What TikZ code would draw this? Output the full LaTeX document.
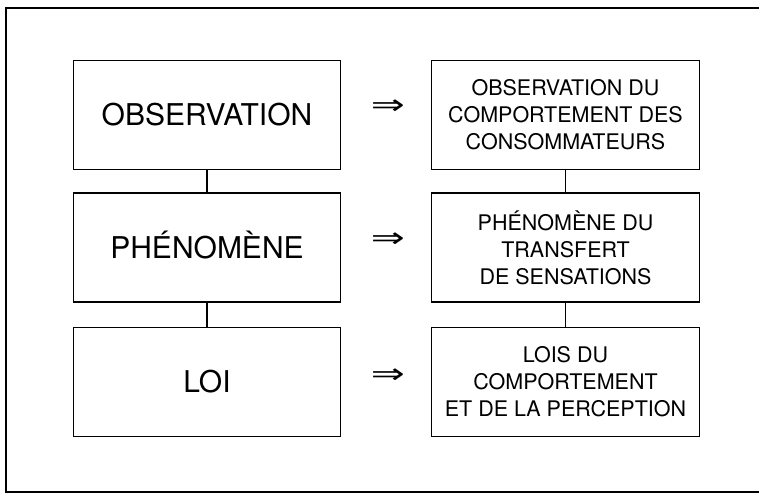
\documentclass[tikz,border=0pt]{standalone}
\usepackage{fontspec}
\usepackage{graphicx}
\setmainfont{TeX Gyre Heros}
\newfontfamily\arrowfont{DejaVu Sans}
\newcommand{\wideimp}{\scalebox{1.45}[1]{⇒}}
\tikzset{
    stage/.style={rectangle,draw,line width=1.4pt,minimum width=267pt,minimum height=109pt,inner sep=0pt,text height=21pt,text depth=0pt,font=\fontsize{30}{34}\selectfont},
    detail/.style={rectangle,draw,line width=1.4pt,minimum width=268pt,minimum height=109pt,inner sep=0pt,align=center,font=\fontsize{21.5}{27}\selectfont},
    implies/.style={inner sep=0pt,font=\arrowfont\fontsize{28}{28}\selectfont},
    link/.style={line width=1.4pt},
    }

\begin{document}
\begin{tikzpicture}[x=1pt,y=-1pt]
    \useasboundingbox (0,0) rectangle (759,494);
    \draw[link] (770,8) -- (6,8) -- (6,492) -- (770,492);

    \node[stage] (obs) at (207,115) {OBSERVATION};
    \node[stage] (phen) at (207,247.5) {PHÉNOMÈNE};
    \node[stage] (loi) at (207,382) {LOI};

    \node[detail] (obsd) at (565.5,115) {OBSERVATION DU\\COMPORTEMENT DES\\CONSOMMATEURS};
    \node[detail] (phend) at (565.5,247.5) {PHÉNOMÈNE DU\\TRANSFERT\\DE SENSATIONS};
    \node[detail] (loid) at (565.5,382) {LOIS DU\\COMPORTEMENT\\ET DE LA PERCEPTION};

    \node[implies] (ia) at (388,107) {\wideimp};
    \node[implies] (ib) at (388,240) {\wideimp};
    \node[implies] (ic) at (388,376) {\wideimp};

    \draw[link] (obs) -- (phen);
    \draw[link] (phen) -- (loi);
    \draw[link] (obsd) -- (phend);
    \draw[link] (phend) -- (loid);
\end{tikzpicture}
\end{document}
